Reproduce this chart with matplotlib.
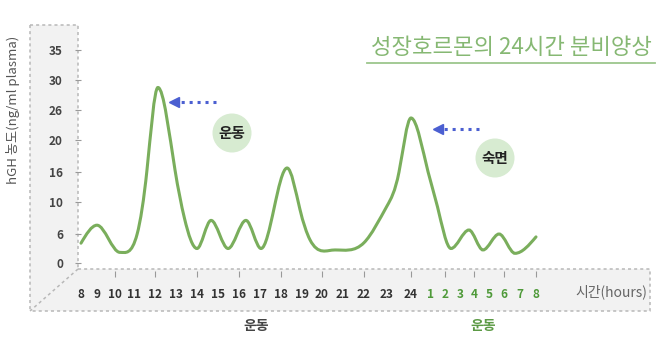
import numpy as np
import matplotlib.pyplot as plt
from matplotlib.path import Path
from matplotlib.patches import PathPatch, Polygon, Circle
import matplotlib.transforms as mtransforms

plt.rcParams['font.family'] = ['Noto Sans CJK KR', 'DejaVu Sans']

# Data
hour_labels = ['8', '9', '10', '11', '12', '13', '14', '15', '16', '17', '18', '19', '20',
               '21', '22', '23', '24', '1', '2', '3', '4', '5', '6', '7', '8']
hours = list(range(8, 33))          # continuous timeline, 25..32 = 1..8 next day
y_labels = ['0', '6', '10', '16', '20', '26', '30', '35']
y_values = [0, 6, 10, 16, 20, 26, 30, 35]

curve_hours = [8.0, 9.0, 10.26, 11.15, 11.62, 12.14, 12.95, 13.4, 14.0, 14.67, 15.48,
               16.33, 17.05, 18.29, 18.9, 19.4, 20.62, 22.0, 23.0, 23.5, 24.0, 24.9,
               25.5, 26.4, 27.64, 28.6, 29.67, 30.69, 32.0]
curve_values = [4.1, 7.1, 2.2, 6.0, 16.3, 29.0, 16.3, 8.0, 3.0, 7.7, 3.0,
                7.7, 3.0, 16.5, 9.1, 4.8, 2.7, 4.2, 9.5, 16.0, 24.4, 16.0,
                9.4, 3.0, 6.5, 2.7, 6.0, 2.0, 5.4]

# Layout (pixels, figure is 661 x 353)
W, H = 661, 353
hour_px = np.array([81, 97, 115, 134, 155, 176, 197, 218, 239, 260, 281, 302, 322,
                    343, 364, 387, 411, 430, 445, 460, 474, 489, 504, 520, 536], float)
ytick_px = H - np.array([263, 234, 202, 172, 140, 110, 80, 50], float)

hx = np.concatenate([[7], hours, [33]])
hp = np.concatenate([[hour_px[0] - 16], hour_px, [hour_px[-1] + 16]])
vy = np.concatenate([[-6], y_values, [40]])
vp = np.concatenate([[ytick_px[0] - 30], ytick_px, [ytick_px[-1] + 30]])


def fx(h):
    return np.interp(h, hx, hp)


def ix(p):
    return np.interp(p, hp, hx)


def fy(v):
    return np.interp(v, vy, vp)


def iy(p):
    return np.interp(p, vp, vy)


green = '#7aae5c'
fig = plt.figure(figsize=(W / 100, H / 100), dpi=100)

# background overlay in pixel coordinates
bg = fig.add_axes([0, 0, 1, 1])
bg.set_xlim(0, W)
bg.set_ylim(H, 0)
bg.axis('off')

panel = '#f2f2f2'
edge = '#b8b8b8'
bg.add_patch(Polygon([(30, 25), (78, 25), (78, 269), (30, 311)], closed=True,
                     facecolor=panel, edgecolor='none'))
bg.add_patch(Polygon([(78, 269), (650, 269), (650, 311), (30, 311)], closed=True,
                     facecolor=panel, edgecolor='none'))
dash = dict(color=edge, lw=1.1, ls=(0, (2, 2)))
bg.plot([30, 78, 78], [25, 25, 269], **dash)
bg.plot([30, 30], [25, 311], **dash)
bg.plot([78, 650, 650, 30], [269, 269, 311, 311], **dash)
bg.plot([78, 30], [269, 311], **dash)

# title
bg.text(511, 47, '성장호르몬의 24시간 분비양상', fontsize=16, color='#86b873',
        ha='center', va='center')
bg.plot([367, 655], [63, 63], color='#9cc68c', lw=1.3)

# y label
bg.text(13, 110, 'hGH 농도(ng/ml plasma)', rotation=90, fontsize=9.5,
        color='#555555', ha='center', va='center')

# x axis title and bottom notes
bg.text(611, 292, '시간(hours)', fontsize=10, color='#666666', ha='center', va='center')
bg.text(256, 326, '운동', fontsize=10, color='#444444', ha='center', va='center',
        fontweight='bold')
bg.text(483, 326, '운동', fontsize=10, color='#5c9a45', ha='center', va='center',
        fontweight='bold')

# circles with labels
for cx, cy, lab in [(232, 133, '운동'), (495, 158, '숙면')]:
    bg.add_patch(Circle((cx, cy), 19.5, facecolor='#d7ebd1', edgecolor='none'))
    bg.text(cx, cy, lab, fontsize=10.5, color='#222222', ha='center', va='center',
            fontweight='bold')

# dotted arrows
blue = '#4b5fd1'
for x0, x1, yy in [(216, 176, 102), (479, 440, 129)]:
    bg.plot([x0, x1], [yy, yy], color=blue, lw=2.2, ls=(0, (1, 1.6)))
    bg.plot([x1 - 2], [yy], marker='<', color=blue, markersize=7)

# plot axes with function scales
ax = fig.add_axes([hour_px[0] / W, ytick_px[0] / H,
                   (hour_px[-1] - hour_px[0]) / W, (ytick_px[-1] - ytick_px[0]) / H])
ax.set_xscale('function', functions=(fx, ix))
ax.set_yscale('function', functions=(fy, iy))
ax.set_xlim(8, 32)
ax.set_ylim(0, 35)
ax.patch.set_alpha(0)
for s in ax.spines.values():
    s.set_visible(False)

ax.set_yticks(y_values)
ax.set_yticklabels(y_labels)
ax.tick_params(axis='y', length=4, width=0.8, color='#999999', pad=9,
               labelsize=8.5, labelcolor='#444444')
ax.set_xticks(hours)
ax.set_xticklabels(hour_labels)
ax.tick_params(axis='x', length=0, pad=18, labelsize=8.5, labelcolor='#333333')
for lbl in ax.get_xticklabels()[17:]:
    lbl.set_color('#4f9a3a')
for lbl in ax.get_xticklabels() + ax.get_yticklabels():
    lbl.set_fontweight('bold')

# small tick marks on the floor at even hours
blend = mtransforms.blended_transform_factory(ax.transData, bg.transData)
even = [h for h in hours if h % 2 == 0 and h > 8]
ax.vlines(even, 271, 277, transform=blend, color='#999999', lw=0.8, clip_on=False)

# smooth curve: C2 cubic spline in scaled space, flat at local extrema
px = fx(np.array(curve_hours))
py = fy(np.array(curve_values))
n = len(px)
h = np.diff(px)
A = np.zeros((n, n))
b = np.zeros(n)
for i in range(n):
    if 0 < i < n - 1 and (py[i] - py[i - 1]) * (py[i + 1] - py[i]) <= 0:
        A[i, i] = 1.0
    elif i == 0:
        A[0, 0], A[0, 1] = 2.0, 1.0
        b[0] = 3 * (py[1] - py[0]) / h[0]
    elif i == n - 1:
        A[i, i - 1], A[i, i] = 1.0, 2.0
        b[i] = 3 * (py[i] - py[i - 1]) / h[i - 1]
    else:
        A[i, i - 1] = 1 / h[i - 1]
        A[i, i] = 2 * (1 / h[i - 1] + 1 / h[i])
        A[i, i + 1] = 1 / h[i]
        b[i] = 3 * ((py[i] - py[i - 1]) / h[i - 1] ** 2 + (py[i + 1] - py[i]) / h[i] ** 2)
m = np.linalg.solve(A, b)
verts = [(px[0], py[0])]
codes = [Path.MOVETO]
for i in range(n - 1):
    d = h[i]
    verts += [(px[i] + d / 3, py[i] + m[i] * d / 3),
              (px[i + 1] - d / 3, py[i + 1] - m[i + 1] * d / 3),
              (px[i + 1], py[i + 1])]
    codes += [Path.CURVE4] * 3
verts = np.array(verts)
data_verts = np.column_stack([ix(verts[:, 0]), iy(verts[:, 1])])
ax.add_patch(PathPatch(Path(data_verts, codes), facecolor='none', edgecolor=green,
                       lw=2.2, clip_on=False, capstyle='round'))

fig.savefig('out.png', dpi=100)
